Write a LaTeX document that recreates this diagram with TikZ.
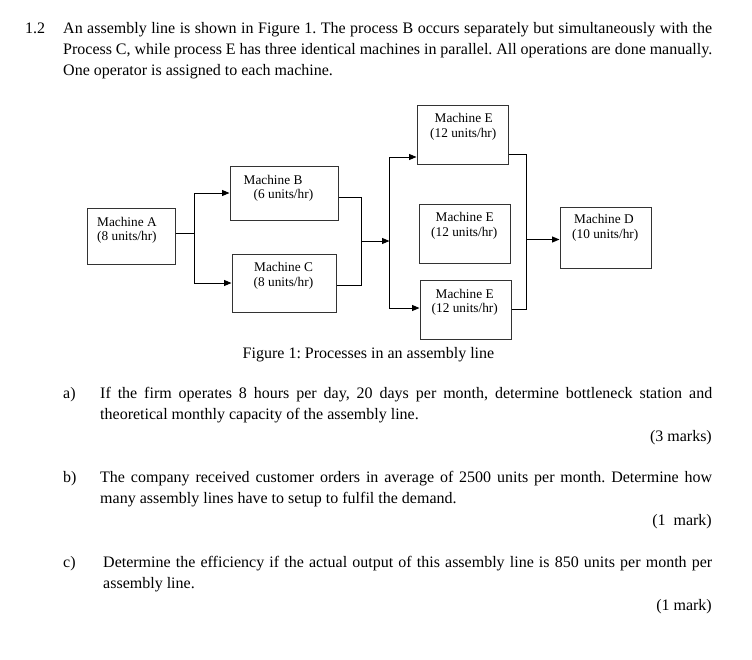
\documentclass[tikz,border=0pt]{standalone}
\usepackage{fontspec}
\setmainfont{Liberation Serif}
\usetikzlibrary{arrows.meta}
\frenchspacing
\begin{document}
\begin{tikzpicture}[x=1pt,y=-1pt,
  mbox/.style={draw=black!80,line width=1pt,inner sep=0pt},
  btext/.style={anchor=base west,inner sep=0pt,font=\fontsize{13.3}{15}\selectfont},
  ptext/.style={anchor=base west,inner sep=0pt,align=justify,font=\fontsize{16}{21}\selectfont},
  ltext/.style={anchor=base west,inner sep=0pt,font=\fontsize{16}{21}\selectfont},
  rtext/.style={anchor=base east,inner sep=0pt,font=\fontsize{16}{21}\selectfont},
  conn/.style={line width=1pt,black},
  arr/.style={conn,-{Triangle[length=7.5pt,width=6pt]}}]
\useasboundingbox (0,0) rectangle (752,659);

% question text
\node[ltext] (num) at (25,33) {1.2};
\node[ptext,text width=649pt] (intro) at (63,33) {An assembly line is shown in Figure 1. The process B occurs separately but simultaneously with the\linebreak Process C, while process E has three identical machines in parallel. All operations are done manually.\linebreak One operator is assigned to each machine.};

% boxes
\node[mbox,minimum width=88pt,minimum height=56pt] (A) at (131,236) {};
\node[mbox,minimum width=108pt,minimum height=54pt] (B) at (284,193) {};
\node[mbox,minimum width=104pt,minimum height=58pt] (C) at (284,283) {};
\node[mbox,minimum width=91pt,minimum height=59pt] (E1) at (462.5,134.5) {};
\node[mbox,minimum width=91pt,minimum height=59pt] (E2) at (464.5,233.5) {};
\node[mbox,minimum width=91pt,minimum height=59pt] (E3) at (465.5,309.5) {};
\node[mbox,minimum width=91pt,minimum height=61pt] (D) at (605.5,237.5) {};

% box texts
\node[btext] (a1) at (97,226) {Machine A};
\node[btext] (a2) at (97,240.5) {(8 units/hr)};
\node[btext] (b1) at (243.5,184) {Machine B};
\node[btext] (b2) at (253.5,198.5) {(6 units/hr)};
\node[btext] (c1) at (254,271.5) {Machine C};
\node[btext] (c2) at (253.5,286) {(8 units/hr)};
\node[btext] (e11) at (434.5,122.5) {Machine E};
\node[btext] (e12) at (430,137) {(12 units/hr)};
\node[btext] (e21) at (435.5,221.5) {Machine E};
\node[btext] (e22) at (431,236) {(12 units/hr)};
\node[btext] (e31) at (435.5,298) {Machine E};
\node[btext] (e32) at (431.5,312.5) {(12 units/hr)};
\node[btext] (d1) at (574,223) {Machine D};
\node[btext] (d2) at (572,238.5) {(10 units/hr)};

% connectors
\coordinate (s1) at (194,233);
\draw[conn] (A.east |- s1) -- (s1);
\draw[arr] (s1) |- (B.west);
\draw[arr] (s1) |- (C.west);
\coordinate (j1) at (361,241);
\draw[conn] ([yshift=-4pt]B.east) -| (j1);
\draw[conn] ([yshift=-2pt]C.east) -| (j1);
\coordinate (s2) at (389.5,241);
\draw[arr] (j1) -- (s2);
\draw[arr] (s2) |- ([yshift=-22.5pt]E1.west);
\draw[arr] (s2) |- ([yshift=1.5pt]E3.west);
\coordinate (j2) at (526,239.5);
\draw[conn] ([yshift=-19.5pt]E1.east) -| (j2);
\draw[conn] ([yshift=0.5pt]E3.east) -| (j2);
\draw[arr] (j2) -- (j2 -| D.west);

% caption
\node[anchor=base,inner sep=0pt,font=\fontsize{16}{21}\selectfont] (cap) at (368.5,358) {Figure 1: Processes in an assembly line};

% questions
\node[ltext] (la) at (63,398) {a)};
\node[ptext,text width=612pt] (qa) at (100,398) {If the firm operates 8 hours per day, 20 days per month, determine bottleneck station and\linebreak theoretical monthly capacity of the assembly line.};
\node[rtext] (ma) at (712,441) {(3 marks)};

\node[ltext] (lb) at (63,482) {b)};
\node[ptext,text width=612pt] (qb) at (100,482) {The company received customer orders in average of 2500 units per month. Determine how\linebreak many assembly lines have to setup to fulfil the demand.};
\node[rtext] (mb) at (712,525) {(1\ \ mark)};

\node[ltext] (lc) at (63,567) {c)};
\node[ptext,text width=609pt] (qc) at (103,567) {Determine the efficiency if the actual output of this assembly line is 850 units per month per\linebreak assembly line.};
\node[rtext] (mc) at (712,610) {(1 mark)};
\end{tikzpicture}
\end{document}
